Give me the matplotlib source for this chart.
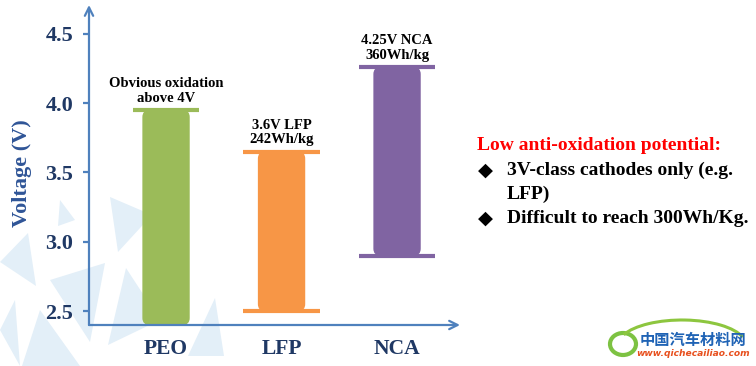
import matplotlib
matplotlib.use("Agg")
import matplotlib.pyplot as plt
from matplotlib.patches import FancyBboxPatch, Polygon, Ellipse, Arc

# ---- data ----
categories = ["PEO", "LFP", "NCA"]
low_v = [2.40, 2.50, 2.90]
high_v = [3.95, 3.65, 4.26]
has_low_cap = [False, True, True]
cap_widths = [0.57, 0.66, 0.66]
colors = ["#9BBB59", "#F79646", "#8064A2"]
annotations = ["Obvious oxidation\nabove 4V", "3.6V LFP\n242Wh/kg", "4.25V NCA\n360Wh/kg"]
yticks = [2.5, 3.0, 3.5, 4.0, 4.5]
side_title = "Low anti-oxidation potential:"
side_lines = [("\u25C6", "3V-class cathodes only (e.g."), ("", "LFP)"), ("\u25C6", "Difficult to reach 300Wh/Kg.")]

SERIF = ["Liberation Serif", "DejaVu Serif"]
AXIS_BLUE = "#4F81BD"
NAVY = "#1F3864"

W, H = 756, 366
fig = plt.figure(figsize=(W / 100, H / 100), dpi=100)
fig.patch.set_facecolor("white")

# ---- decorative watermark triangles (figure pixel coords) ----
tris = [
    [(110, 197), (152, 215), (118, 252)],
    [(60, 200), (75, 220), (58, 226)],
    [(0, 262), (28, 233), (36, 286)],
    [(50, 280), (105, 263), (90, 342)],
    [(22, 366), (40, 310), (80, 366)],
    [(108, 345), (126, 268), (160, 320)],
    [(188, 356), (215, 298), (224, 356)],
    [(0, 330), (15, 300), (20, 366)],
]
for t in tris:
    pts = [(x / W, 1 - y / H) for x, y in t]
    fig.patches.append(Polygon(pts, closed=True, transform=fig.transFigure,
                               facecolor="#E3EFF8", edgecolor="none", zorder=-5))

ax = fig.add_axes([89 / W, 41 / H, 371 / W, 320 / H])
ax.set_facecolor("none")
ax.set_zorder(2)
ax.set_xlim(-0.667, 2.545)
ax.set_ylim(2.399, 4.709)
xpos = list(range(len(categories)))

bar_w = 0.41
aspect = (320 / (4.709 - 2.399)) / (371 / (2.545 + 0.667))
for i, x in enumerate(xpos):
    patch = FancyBboxPatch((x - bar_w / 2, low_v[i]), bar_w, high_v[i] - low_v[i],
                           boxstyle="round,pad=0,rounding_size=0.06",
                           mutation_aspect=1 / aspect,
                           facecolor=colors[i], edgecolor="none", zorder=2)
    ax.add_patch(patch)
    ax.hlines(high_v[i], x - cap_widths[i] / 2, x + cap_widths[i] / 2,
              colors=colors[i], lw=3, zorder=3)
    if has_low_cap[i]:
        ax.hlines(low_v[i], x - cap_widths[i] / 2, x + cap_widths[i] / 2,
                  colors=colors[i], lw=3, zorder=3)
    ax.annotate(annotations[i], xy=(x, high_v[i]), xytext=(0, 4),
                textcoords="offset points", ha="center", va="bottom",
                fontsize=10.5, fontweight="bold", family=SERIF, color="black",
                linespacing=1.15, zorder=4)

# axes styling
for s in ax.spines.values():
    s.set_visible(False)
ax.annotate("", xy=(1.0, 0), xytext=(0, 0), xycoords="axes fraction",
            arrowprops=dict(arrowstyle="->,head_length=0.6,head_width=0.3",
                            color=AXIS_BLUE, lw=1.6, shrinkA=0, shrinkB=0))
ax.annotate("", xy=(0, 1.0), xytext=(0, 0), xycoords="axes fraction",
            arrowprops=dict(arrowstyle="->,head_length=0.6,head_width=0.3",
                            color=AXIS_BLUE, lw=1.6, shrinkA=0, shrinkB=0))

ax.set_yticks(yticks)
ax.set_yticklabels([f"{v:.1f}" for v in yticks])
ax.set_xticks(xpos)
ax.set_xticklabels(categories)
ax.tick_params(axis="y", direction="out", length=4.5, width=1.6, color=AXIS_BLUE,
               pad=7, labelcolor=NAVY, labelsize=16)
ax.tick_params(axis="x", length=0, pad=10, labelcolor=NAVY, labelsize=15.5)
for lab in ax.get_yticklabels() + ax.get_xticklabels():
    lab.set_family(SERIF)
    lab.set_fontweight("bold")

fig.text(22 / W, 1 - 173 / H, "Voltage (V)", rotation=90, ha="center", va="center",
         fontsize=16, fontweight="bold", family=SERIF, color="#2F5597")

# side notes
fig.text(477 / W, 1 - 145 / H, side_title, ha="left", va="center",
         fontsize=14, fontweight="bold", family=SERIF, color="#FF0000")
for k, (b, txt) in enumerate(side_lines):
    yy = 1 - (170 + 24.3 * k) / H
    if b:
        fig.text(485 / W, yy, b, ha="center", va="center", fontsize=14,
                 family=["DejaVu Sans"], color="black")
    fig.text(507 / W, yy, txt, ha="left", va="center", fontsize=14,
             fontweight="bold", family=SERIF, color="black")

# watermark logo
fig.patches.append(Ellipse((623 / W, 1 - 344 / H), 26 / W, 22 / H, transform=fig.transFigure,
                           facecolor="none", edgecolor="#7DC242", lw=3, zorder=1))
fig.patches.append(Arc((682 / W, 1 - 345 / H), 128 / W, 50 / H, theta1=15, theta2=160,
                       transform=fig.transFigure, edgecolor="#8DC63F", lw=2.2, zorder=1))
fig.text(693 / W, 1 - 340 / H, "中国汽车材料网", ha="center", va="center", fontsize=11,
         fontweight="bold", family=["Noto Sans CJK SC", "DejaVu Sans"], color="#1F63B5")
fig.text(693 / W, 1 - 354 / H, "www.qichecailiao.com", ha="center", va="center",
         fontsize=6.6, fontstyle="italic", fontweight="bold", family=["DejaVu Sans"],
         color="#E8501E")

fig.savefig("out.png", dpi=100, facecolor="white")
